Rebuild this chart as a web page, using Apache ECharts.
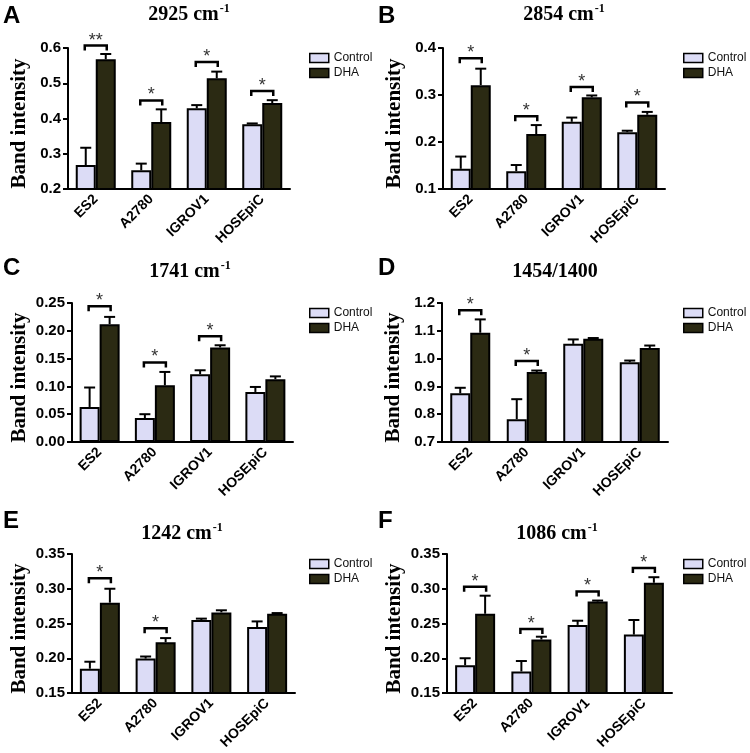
<!DOCTYPE html>
<html><head><meta charset="utf-8">
<script src="https://cdn.jsdelivr.net/npm/echarts@6/dist/echarts.min.js"></script>
<style>html,body{margin:0;padding:0;background:#fff}#c{width:750px;height:753px}</style>
</head><body><div id="c"></div>
<script>
// ---------------- DATA ----------------
const categories = ['ES2', 'A2780', 'IGROV1', 'HOSEpiC'];
const seriesNames = ['Control', 'DHA'];
const panelLetters = ['A', 'B', 'C', 'D', 'E', 'F'];
const titleMain = ['2925 cm', '2854 cm', '1741 cm', '1454/1400', '1242 cm', '1086 cm'];
const titleSup  = ['-1', '-1', '-1', '', '-1', '-1'];
const yAxisName = 'Band intensity';

// tick labels per panel
const ticksA = ['0.2', '0.3', '0.4', '0.5', '0.6'];
const ticksB = ['0.1', '0.2', '0.3', '0.4'];
const ticksC = ['0.00', '0.05', '0.10', '0.15', '0.20', '0.25'];
const ticksD = ['0.7', '0.8', '0.9', '1.0', '1.1', '1.2'];
const ticksE = ['0.15', '0.20', '0.25', '0.30', '0.35'];
const ticksF = ['0.15', '0.20', '0.25', '0.30', '0.35'];

// Panel A: 2925 cm-1
const controlA = [0.268, 0.253, 0.429, 0.384];
const controlErrA = [0.049, 0.019, 0.009, 0.002];
const dhaA = [0.568, 0.390, 0.514, 0.444];
const dhaErrA = [0.015, 0.036, 0.019, 0.008];
const sigA = [[0, 0.607, '**'], [1, 0.451, '*'], [2, 0.560, '*'], [3, 0.478, '*']];

// Panel B: 2854 cm-1
const controlB = [0.143, 0.138, 0.243, 0.221];
const controlErrB = [0.026, 0.013, 0.009, 0.003];
const dhaB = [0.321, 0.217, 0.295, 0.258];
const dhaErrB = [0.035, 0.019, 0.004, 0.006];
const sigB = [[0, 0.378, '*'], [1, 0.255, '*'], [2, 0.317, '*'], [3, 0.284, '*']];

// Panel C: 1741 cm-1
const controlC = [0.063, 0.043, 0.122, 0.090];
const controlErrC = [0.035, 0.007, 0.007, 0.009];
const dhaC = [0.212, 0.102, 0.170, 0.113];
const dhaErrC = [0.013, 0.024, 0.004, 0.005];
const sigC = [[0, 0.244, '*'], [1, 0.143, '*'], [2, 0.190, '*']];

// Panel D: 1454/1400
const controlD = [0.875, 0.782, 1.053, 0.987];
const controlErrD = [0.020, 0.072, 0.016, 0.006];
const dhaD = [1.093, 0.952, 1.071, 1.038];
const dhaErrD = [0.048, 0.005, 0.003, 0.009];
const sigD = [[0, 1.174, '*'], [1, 0.991, '*']];

// Panel E: 1242 cm-1
const controlE = [0.185, 0.1995, 0.255, 0.245];
const controlErrE = [0.010, 0.003, 0.002, 0.008];
const dhaE = [0.280, 0.223, 0.266, 0.264];
const dhaErrE = [0.020, 0.006, 0.003, 0.001];
const sigE = [[0, 0.315, '*'], [1, 0.243, '*']];

// Panel F: 1086 cm-1
const controlF = [0.190, 0.181, 0.248, 0.234];
const controlErrF = [0.010, 0.015, 0.006, 0.021];
const dhaF = [0.264, 0.227, 0.2815, 0.3086];
const dhaErrF = [0.026, 0.004, 0.0015, 0.008];
const sigF = [[0, 0.303, '*'], [1, 0.242, '*'], [2, 0.296, '*'], [3, 0.330, '*']];

// ---------------- LAYOUT / STYLE ----------------
const panels = [
  {ticks: ticksA, c: controlA, ce: controlErrA, d: dhaA, de: dhaErrA, sig: sigA},
  {ticks: ticksB, c: controlB, ce: controlErrB, d: dhaB, de: dhaErrB, sig: sigB},
  {ticks: ticksC, c: controlC, ce: controlErrC, d: dhaC, de: dhaErrC, sig: sigC},
  {ticks: ticksD, c: controlD, ce: controlErrD, d: dhaD, de: dhaErrD, sig: sigD},
  {ticks: ticksE, c: controlE, ce: controlErrE, d: dhaE, de: dhaErrE, sig: sigE},
  {ticks: ticksF, c: controlF, ce: controlErrF, d: dhaF, de: dhaErrF, sig: sigF}
];
const layout = [
  {grid: [68, 48, 222, 141],  letter: [3, 4],    title: [189, 14],  legend: [309, 52],  nameGap: 38},
  {grid: [443, 48, 222, 141], letter: [378, 4],  title: [564, 14],  legend: [683, 52],  nameGap: 38},
  {grid: [72, 303, 221, 139], letter: [3, 256],  title: [190, 271], legend: [309, 307], nameGap: 42},
  {grid: [442, 303, 226, 139],letter: [378, 256],title: [555, 271], legend: [683, 307], nameGap: 38},
  {grid: [72, 554, 223, 139], letter: [3, 509],  title: [182, 533], legend: [309, 558], nameGap: 42},
  {grid: [447, 554, 225, 139],letter: [378, 509],title: [557, 533], legend: [683, 558], nameGap: 42}
];
const BAR_W = 20;
const CAP_W = 11;
const CONTROL_COLOR = '#dcdcf6';
const DHA_COLOR = '#2b2a13';
const SANS = 'Liberation Sans';
const SERIF = 'Liberation Serif';

function errRender(params, api) {
  const cat = api.value(0), v = api.value(1), e = api.value(2), g = api.value(3);
  const base = api.coord([cat, v]);
  const top = api.coord([cat, v + e]);
  const x = base[0] + (g === 0 ? -BAR_W / 2 : BAR_W / 2);
  return {type: 'group', children: [
    {type: 'line', shape: {x1: x, y1: base[1], x2: x, y2: top[1]}, style: {stroke: '#000', lineWidth: 2}},
    {type: 'line', shape: {x1: x - CAP_W / 2, y1: top[1], x2: x + CAP_W / 2, y2: top[1]}, style: {stroke: '#000', lineWidth: 2}}
  ]};
}
function makeSigRender(arr) {
  return function (params, api) {
    const item = arr[params.dataIndex];
    const p = api.coord([api.value(0), api.value(1)]);
    const x1 = p[0] - BAR_W / 2 - 1, x2 = p[0] + BAR_W / 2 + 1, y = p[1];
    return {type: 'group', children: [
      {type: 'polyline', shape: {points: [[x1, y + 5], [x1, y], [x2, y], [x2, y + 5]]},
        style: {stroke: '#000', lineWidth: 2.5, fill: null}},
      {type: 'text', x: p[0], y: y - 14,
        style: {text: item[2], font: '18px ' + SANS, fill: '#333', align: 'center', verticalAlign: 'top'}}
    ]};
  };
}

const grid = [], xAxis = [], yAxis = [], series = [], legend = [], graphic = [];
panels.forEach((p, i) => {
  const L = layout[i];
  grid.push({left: L.grid[0], top: L.grid[1], width: L.grid[2], height: L.grid[3], containLabel: false});
  xAxis.push({
    type: 'category', gridIndex: i, data: categories,
    axisLine: {lineStyle: {color: '#000', width: 2}},
    axisTick: {alignWithLabel: true, length: 5, lineStyle: {color: '#000', width: 2}},
    axisLabel: {rotate: 45, margin: 8, color: '#000', fontFamily: SANS, fontWeight: 'bold', fontSize: 14, interval: 0}
  });
  const tv = p.ticks.map(Number);
  yAxis.push({
    type: 'value', gridIndex: i,
    min: tv[0], max: tv[tv.length - 1], interval: +(tv[1] - tv[0]).toFixed(4),
    name: yAxisName, nameLocation: 'middle', nameGap: L.nameGap,
    nameTextStyle: {fontFamily: SERIF, fontWeight: 'bold', fontSize: 21, color: '#000', padding: [0, 10, 0, 0]},
    axisLine: {show: true, lineStyle: {color: '#000', width: 2}},
    axisTick: {show: true, length: 5, lineStyle: {color: '#000', width: 2}},
    splitLine: {show: false},
    axisLabel: {margin: 7, color: '#000', fontFamily: SANS, fontWeight: 'bold', fontSize: 15,
      formatter: v => {
        let best = p.ticks[0], bd = Infinity;
        p.ticks.forEach(t => { const d = Math.abs(Number(t) - v); if (d < bd) { bd = d; best = t; } });
        return best;
      }}
  });
  series.push({
    name: seriesNames[0], type: 'bar', xAxisIndex: i, yAxisIndex: i, data: p.c,
    barWidth: BAR_W, barGap: '0%',
    itemStyle: {color: CONTROL_COLOR, borderColor: '#000', borderWidth: 2}
  });
  series.push({
    name: seriesNames[1], type: 'bar', xAxisIndex: i, yAxisIndex: i, data: p.d,
    barWidth: BAR_W, barGap: '0%',
    itemStyle: {color: DHA_COLOR, borderColor: '#000', borderWidth: 2}
  });
  const errData = [];
  p.c.forEach((v, k) => errData.push([k, v, p.ce[k], 0]));
  p.d.forEach((v, k) => errData.push([k, v, p.de[k], 1]));
  series.push({
    name: 'err' + i, type: 'custom', xAxisIndex: i, yAxisIndex: i, data: errData,
    renderItem: errRender, encode: {x: 0, y: 1}, z: 5, silent: true, clip: false
  });
  series.push({
    name: 'sig' + i, type: 'custom', xAxisIndex: i, yAxisIndex: i,
    data: p.sig.map(s => [s[0], s[1]]),
    renderItem: makeSigRender(p.sig), encode: {x: 0, y: 1}, z: 6, silent: true, clip: false
  });
  legend.push({
    data: seriesNames, orient: 'vertical', left: L.legend[0], top: L.legend[1], padding: 0,
    itemWidth: 19, itemHeight: 9, itemGap: 3, icon: 'rect', selectedMode: false,
    textStyle: {fontFamily: SANS, fontSize: 12, color: '#111'},
    itemStyle: {borderColor: '#000', borderWidth: 1.5}
  });
  graphic.push({type: 'text', left: L.letter[0], top: L.letter[1],
    style: {text: panelLetters[i], font: 'bold 24px ' + SANS, fill: '#000'}});
  const tText = titleSup[i] ? '{m|' + titleMain[i] + '}{s|' + titleSup[i] + '}' : '{m|' + titleMain[i] + '}';
  graphic.push({type: 'text', x: L.title[0], y: L.title[1],
    style: {text: tText, align: 'center', verticalAlign: 'middle', fill: '#000',
      rich: {m: {font: 'bold 20px ' + SERIF, lineHeight: 22, verticalAlign: 'bottom'},
             s: {font: 'bold 12px ' + SERIF, lineHeight: 22, verticalAlign: 'top', padding: [0, 0, 0, 1]}}}});
});

const chart = echarts.init(document.getElementById('c'), null, {renderer: 'canvas'});
chart.setOption({
  backgroundColor: '#fff', animation: false,
  grid, xAxis, yAxis, series, legend, graphic
});
</script></body></html>
